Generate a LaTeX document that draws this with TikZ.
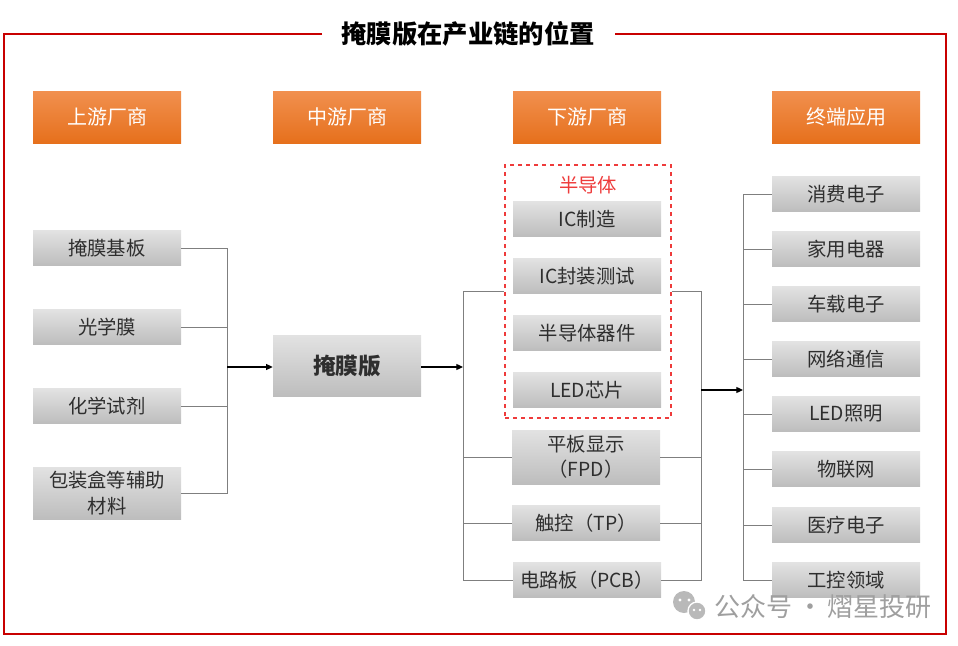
\documentclass[tikz,border=0pt]{standalone}
\usepackage{fontspec}
\setmainfont{Noto Sans CJK SC}
\usetikzlibrary{arrows.meta}

\definecolor{framered}{HTML}{C80000}
\definecolor{orTop}{HTML}{F1904F}
\definecolor{orBot}{HTML}{E6701C}
\definecolor{gTop}{HTML}{E2E2E2}
\definecolor{gBot}{HTML}{BDBDBD}
\definecolor{txt}{HTML}{2E2E2E}
\definecolor{wireGray}{HTML}{7F7F7F}
\definecolor{semiRed}{HTML}{EE3B3B}

\tikzset{
  head/.style={minimum width=111pt, minimum height=39pt, inner sep=0pt,
    top color=orTop, bottom color=orBot, text=white,
    font=\fontsize{15}{18}\selectfont},
  item/.style={minimum width=111pt, minimum height=26pt, inner sep=0pt,
    top color=gTop, bottom color=gBot, text=txt, align=center,
    font=\fontsize{14.5}{17}\selectfont},
  wire/.style={draw=wireGray, line width=0.6pt},
  feed/.style={-{Triangle[length=5pt,width=4.5pt]}, line width=0.9pt},
}

\begin{document}
\begin{tikzpicture}[x=0.75pt, y=-0.75pt]
  \useasboundingbox (0,0) rectangle (958,646);

  % frame and title
  \draw[framered, line width=2.2pt] (322,34) -- (4,34) -- (4,634) -- (946,634) -- (946,34) -- (615,34);
  \node[font=\fontsize{19}{22}\selectfont\bfseries] (title) at (468,34) {掩膜版在产业链的位置};

  % column heads
  \node[head] (up)   at (107,117) {上游厂商};
  \node[head] (mid)  at (347,117) {中游厂商};
  \node[head] (down) at (587,117) {下游厂商};
  \node[head] (app)  at (846,117) {终端应用};

  % upstream
  \node[item] (m1) at (107,248) {掩膜基板};
  \node[item] (m2) at (107,327) {光学膜};
  \node[item] (m3) at (107,406) {化学试剂};
  \node[item, minimum height=39pt, font=\fontsize{14.5}{19}\selectfont] (m4) at (107,493) {包装盒等辅助\\材料};

  % midstream
  \node[item, minimum height=45.75pt, font=\fontsize{17}{20}\selectfont\bfseries] (mask) at (347,366) {掩膜版};

  % downstream
  \node[draw=semiRed, dashed, line width=1.1pt, minimum width=124.5pt, minimum height=189.75pt] (semi) at (588,291.5) {};
  \node[text=semiRed, font=\fontsize{14.5}{17}\selectfont] (semilab) at (588,185) {半导体};
  \node[item] (s1) at (587,219) {IC制造};
  \node[item] (s2) at (587,276) {IC封装测试};
  \node[item] (s3) at (587,333) {半导体器件};
  \node[item] (s4) at (587,390) {LED芯片};
  \node[item, minimum height=40.5pt, font=\fontsize{14.5}{19}\selectfont] (fpd) at (586,457) {平板显示\\（FPD）};
  \node[item] (tp)  at (586,523) {触控（TP）};
  \node[item] (pcb) at (587,580) {电路板（PCB）};

  % end use
  \node[item] (e1) at (846,194) {消费电子};
  \node[item] (e2) at (846,249) {家用电器};
  \node[item] (e3) at (846,304) {车载电子};
  \node[item] (e4) at (846,359) {网络通信};
  \node[item] (e5) at (846,414) {LED照明};
  \node[item] (e6) at (846,469) {物联网};
  \node[item] (e7) at (846,525) {医疗电子};
  \node[item] (e8) at (846,580) {工控领域};

  % junctions
  \coordinate (jL) at (227,367);
  \coordinate (jM) at (463,367);
  \coordinate (jR) at (701,390);
  \coordinate (jA) at (743,390);

  \foreach \n in {m1,m2,m3,m4}
    \draw[wire] (\n.east) -| (jL);
  \draw[feed] (jL) -- (jL -| mask.west);
  \draw[feed] (mask.east |- jM) -- (jM);
  \foreach \n in {semi,fpd,tp,pcb} {
    \draw[wire] (jM) |- (\n.west);
    \draw[wire] (\n.east) -| (jR);
  }
  \draw[feed] (jR) -- (jA);
  \foreach \n in {e1,e2,e3,e4,e5,e6,e7,e8}
    \draw[wire] (jA) |- (\n.west);

  % watermark
  \fill[gray!55] (684,602) circle (11);
  \fill[gray!55, draw=white, line width=1pt] (697,611) circle (9);
  \fill[white] (680,600) circle (1.6) (689,600) circle (1.6) (694,610) circle (1.3) (700,610) circle (1.3);
  \node[anchor=west, text=gray!75, font=\fontsize{19.5}{22}\selectfont] (wm) at (710,607) {公众号\,·\,熠星投研};
\end{tikzpicture}
\end{document}
